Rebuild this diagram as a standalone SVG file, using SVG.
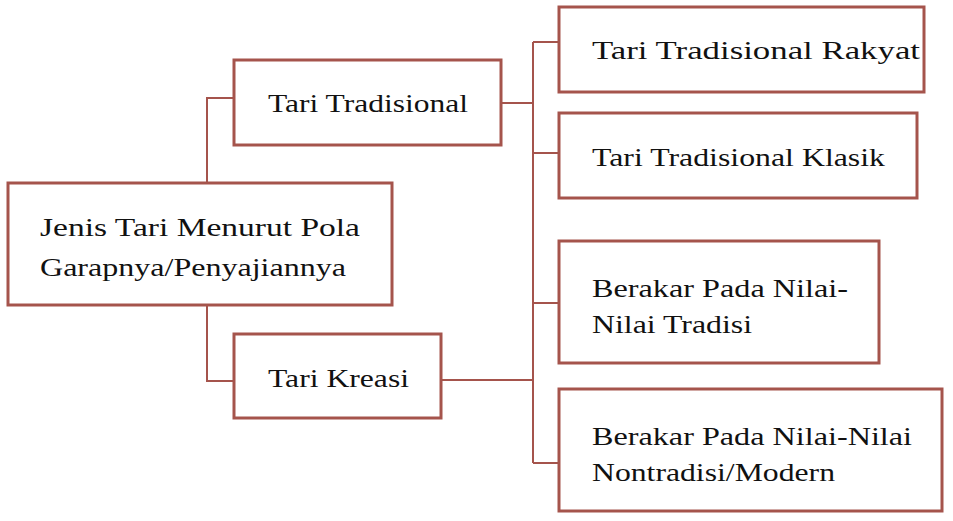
<svg xmlns="http://www.w3.org/2000/svg" width="953" height="521" viewBox="0 0 953 521">
<style>
.b{fill:#fff;stroke:#a5544c;stroke-width:3}
.c{fill:none;stroke:#a5544c;stroke-width:2}
</style>
<rect width="953" height="521" fill="#fff"/>
<g id="connectors">
<path class="c" d="M207 183V98H234M207 305V381H234M501 103H533M441 380H533M533 42V463M533 42H559M533 153H559M533 303H559M533 463H559"/>
</g>
<g font-family="Liberation Serif, DejaVu Serif, Noto Serif, serif" font-size="26" fill="#111" lengthAdjust="spacingAndGlyphs">
<g id="root"><rect class="b" x="8" y="183" width="384" height="122"/>
<text x="40" y="236" textLength="320" lengthAdjust="spacingAndGlyphs">Jenis Tari Menurut Pola</text>
<text x="40" y="276" textLength="306" lengthAdjust="spacingAndGlyphs">Garapnya/Penyajiannya</text></g>
<g id="tradisional"><rect class="b" x="234" y="60" width="267" height="85"/>
<text x="268" y="112" textLength="200" lengthAdjust="spacingAndGlyphs">Tari Tradisional</text></g>
<g id="kreasi"><rect class="b" x="234" y="334" width="207" height="84"/>
<text x="268" y="387" textLength="141" lengthAdjust="spacingAndGlyphs">Tari Kreasi</text></g>
<g id="rakyat"><rect class="b" x="559" y="7" width="365" height="85"/>
<text x="592" y="59" textLength="328" lengthAdjust="spacingAndGlyphs">Tari Tradisional Rakyat</text></g>
<g id="klasik"><rect class="b" x="559" y="113" width="358" height="85"/>
<text x="592" y="166" textLength="293" lengthAdjust="spacingAndGlyphs">Tari Tradisional Klasik</text></g>
<g id="berakar1"><rect class="b" x="559" y="241" width="320" height="122"/>
<text x="592" y="297" textLength="256" lengthAdjust="spacingAndGlyphs">Berakar Pada Nilai-</text>
<text x="592" y="333" textLength="160" lengthAdjust="spacingAndGlyphs">Nilai Tradisi</text></g>
<g id="berakar2"><rect class="b" x="559" y="389" width="383" height="122"/>
<text x="592" y="445" textLength="320" lengthAdjust="spacingAndGlyphs">Berakar Pada Nilai-Nilai</text>
<text x="592" y="481" textLength="243" lengthAdjust="spacingAndGlyphs">Nontradisi/Modern</text></g>
</g>
</svg>
